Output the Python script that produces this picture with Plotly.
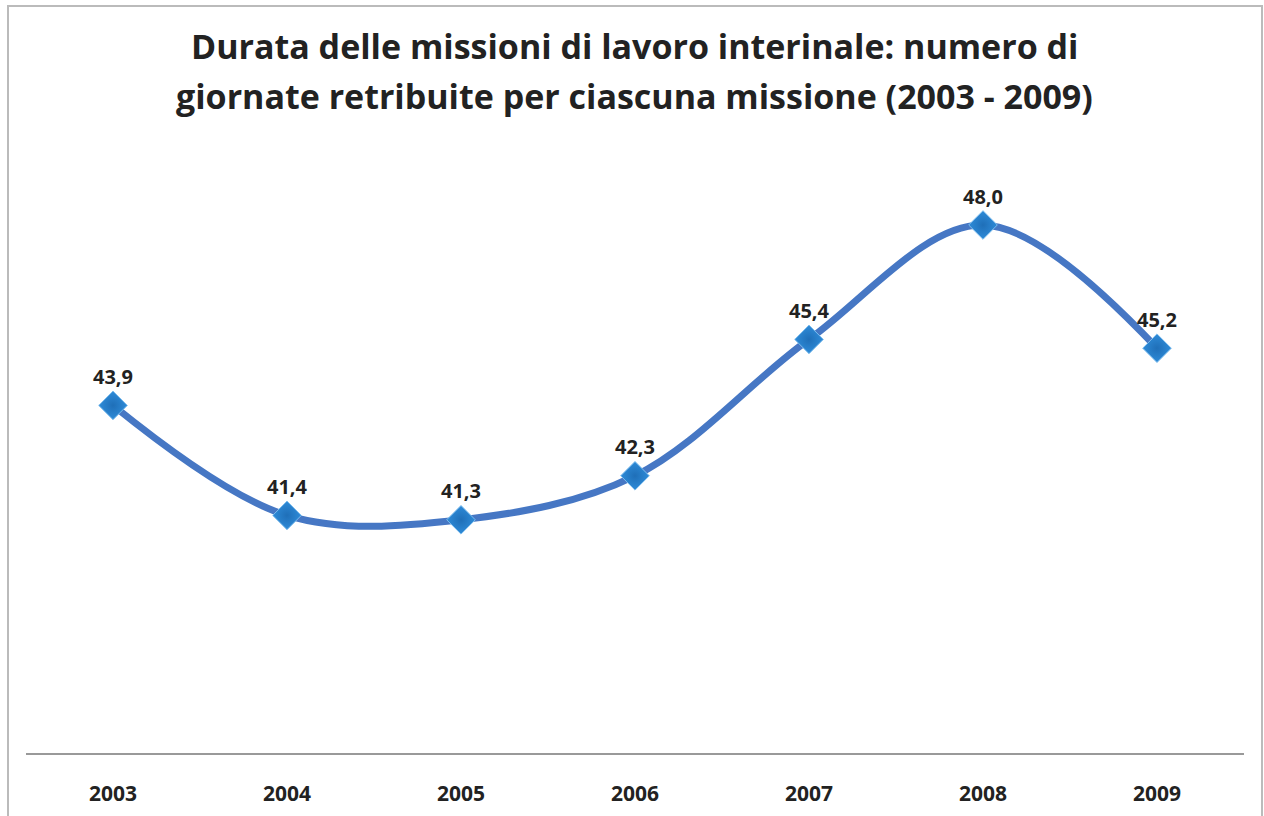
import plotly.graph_objects as go

years = ["2003", "2004", "2005", "2006", "2007", "2008", "2009"]
values = [43.9, 41.4, 41.3, 42.3, 45.4, 48.0, 45.2]
labels = ["43,9", "41,4", "41,3", "42,3", "45,4", "48,0", "45,2"]
title_lines = ["Durata delle missioni di lavoro interinale: numero di",
               "giornate retribuite per ciascuna missione (2003 - 2009)"]

W, H = 1264, 816
ml, mr, mt, mb = 26, 20, 137, 63
pw, ph = W - ml - mr, H - mt - mb
FONT = "Open Sans, Lato, sans-serif"


def py(p):
    return (H - mb - p) / ph


def px(p):
    return (p - ml) / pw


fig = go.Figure()
fig.add_trace(go.Scatter(
    x=years, y=values, mode="lines+markers",
    line=dict(shape="spline", smoothing=1.0, color="#4677C4", width=7),
    marker=dict(symbol="diamond", size=22, color="#2E8BD8",
                line=dict(color="#7DBDEE", width=1),
                gradient=dict(type="radial", color="#1F6FB8")),
    cliponaxis=False, hoverinfo="skip", showlegend=False,
))

annotations = []
for i, (v, lab) in enumerate(zip(values, labels)):
    annotations.append(dict(text="<b>" + lab + "</b>", x=i, y=v, xref="x", yref="y",
                            yshift=29, showarrow=False, xanchor="center", yanchor="middle",
                            font=dict(family=FONT, size=20, color="#222222")))
for line, ypix in zip(title_lines, [46, 96]):
    annotations.append(dict(text="<b>" + line + "</b>", xref="paper", yref="paper",
                            x=px(634), y=py(ypix), xanchor="center", yanchor="middle",
                            showarrow=False,
                            font=dict(family=FONT, size=34, color="#222222")))

fig.update_layout(
    width=W, height=H,
    margin=dict(l=ml, r=mr, t=mt, b=mb, autoexpand=False),
    paper_bgcolor="white", plot_bgcolor="white",
    annotations=annotations,
    xaxis=dict(type="category", range=[-0.5, 6.5], showgrid=False, zeroline=False,
               showline=True, linecolor="#999999", linewidth=2, ticks="",
               automargin=False,
               tickfont=dict(family=FONT, size=21, color="#222222", weight="bold"),
               ticklabelstandoff=21),
    yaxis=dict(range=[36, 50], visible=False, automargin=False),
    shapes=[dict(type="rect", xref="paper", yref="paper",
                 x0=px(8), x1=px(1262), y0=py(H + 40), y1=py(6),
                 line=dict(color="#BBBBBB", width=2), fillcolor="rgba(0,0,0,0)", layer="below")],
)

fig.write_html("out.html", config={"displayModeBar": False},
               post_script="document.body.style.margin='0';document.body.style.overflow='hidden';")
